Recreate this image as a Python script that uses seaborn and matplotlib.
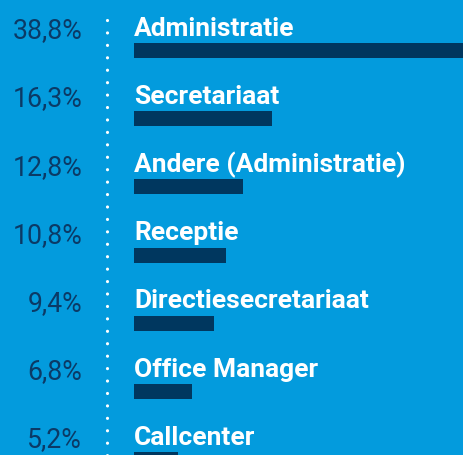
import matplotlib

matplotlib.use("Agg")
import matplotlib.pyplot as plt
import pandas as pd
import seaborn as sns

# データ
categories = [
    "Administratie",
    "Secretariaat",
    "Andere (Administratie)",
    "Receptie",
    "Directiesecretariaat",
    "Office Manager",
    "Callcenter",
]
values = [38.8, 16.3, 12.8, 10.8, 9.4, 6.8, 5.2]
value_labels = ["38,8%", "16,3%", "12,8%", "10,8%", "9,4%", "6,8%", "5,2%"]

BG = "#039bdd"
NAVY = "#00375f"
TEXT_NAVY = "#0b3a66"

sns.set_style("white")
plt.rcParams["font.family"] = ["Roboto", "DejaVu Sans"]

W, H = 463, 456
fig = plt.figure(figsize=(W / 100, H / 100), dpi=100)
fig.patch.set_facecolor(BG)
ax = fig.add_axes([0, 0, 1, 1])
ax.set_facecolor(BG)

df = pd.DataFrame({"cat": categories, "val": values})
sns.barplot(data=df, x="val", y="cat", color=NAVY, width=0.22, saturation=1,
            linewidth=0, ax=ax)

# 座標系: x=0 がピクセル134、最大値が右端
bar_x0 = 134
px_per_unit = (W - bar_x0) / max(values)
ax.set_xlim(-bar_x0 / px_per_unit, max(values))
row_px = 68.2
first_center = 51.5
ax.set_ylim((H - first_center) / row_px, -first_center / row_px)

for i, (cat, lab) in enumerate(zip(categories, value_labels)):
    ax.text(0, i - 15.8 / row_px, cat, color="white", fontsize=19,
            fontweight="bold", ha="left", va="baseline")
    ax.text((82 - bar_x0) / px_per_unit, i - 13.2 / row_px, lab, color=TEXT_NAVY,
            fontsize=19.2, ha="right", va="baseline")

# 点線
x_dot = (106.5 - bar_x0) / px_per_unit
ax.plot([x_dot, x_dot], [(21 - first_center) / row_px, (H + 5 - first_center) / row_px],
        color="white", lw=2.3, linestyle=(0, (0.01, 12.4 * 0.72 / 2.3)),
        dash_capstyle="round", solid_capstyle="round")

ax.set_axis_off()
fig.savefig("out.png", dpi=100, facecolor=BG)
